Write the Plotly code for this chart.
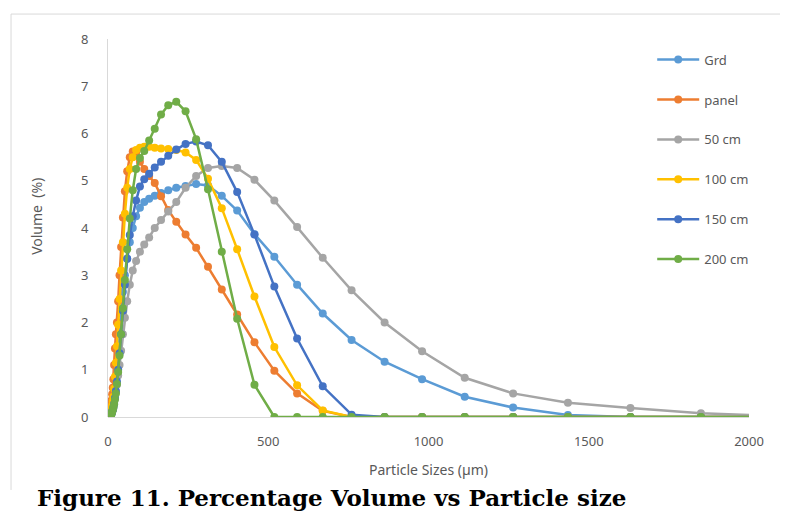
import plotly.graph_objects as go

# Particle size bins (µm)
sizes = [6.9, 7.8, 8.9, 10.1, 11.5, 13.0, 14.8, 16.8, 19.1, 21.7, 24.6, 27.9, 31.7, 36.0,
         40.9, 46.5, 52.7, 59.9, 68.0, 77.2, 87.7, 99.6, 113.1, 128.4, 145.8, 165.5, 188,
         213, 242, 275, 312, 355, 403, 457, 519, 590, 670, 760, 863, 980, 1113, 1264,
         1435, 1630, 1850, 2101]

grd = [0.0, 0.02, 0.05, 0.08, 0.12, 0.16, 0.22, 0.3, 0.4, 0.55, 0.75, 1.0, 1.35, 1.75,
       2.2, 2.65, 3.0, 3.35, 3.7, 4.0, 4.25, 4.43, 4.55, 4.62, 4.68, 4.74, 4.8,
       4.85, 4.89, 4.93, 4.9, 4.68, 4.37, 3.87, 3.39, 2.8, 2.19, 1.63, 1.17, 0.8, 0.43, 0.2,
       0.04, 0.0, 0.0, 0.0]

panel = [0.05, 0.1, 0.18, 0.27, 0.36, 0.48, 0.62, 0.8, 1.1, 1.45, 1.75, 2.0, 2.45, 3.0,
         3.6, 4.22, 4.78, 5.2, 5.5, 5.62, 5.6, 5.4, 5.25, 5.1, 4.95, 4.67, 4.38,
         4.13, 3.86, 3.58, 3.18, 2.7, 2.17, 1.58, 0.98, 0.5, 0.13, 0.0, 0.0, 0.0, 0.0, 0.0,
         0.0, 0.0, 0.0, 0.0]

cm50 = [0.0, 0.02, 0.04, 0.06, 0.09, 0.12, 0.16, 0.22, 0.3, 0.4, 0.52, 0.68, 0.88, 1.1,
        1.4, 1.75, 2.1, 2.45, 2.8, 3.1, 3.3, 3.5, 3.65, 3.8, 4.0, 4.17, 4.35,
        4.55, 4.85, 5.1, 5.27, 5.31, 5.27, 5.02, 4.58, 4.02, 3.37, 2.68, 2.0, 1.39, 0.83, 0.5,
        0.3, 0.19, 0.08, 0.02]

cm100 = [0.0, 0.03, 0.07, 0.12, 0.18, 0.25, 0.33, 0.43, 0.6, 0.85, 1.15, 1.5, 1.95, 2.5,
         3.1, 3.7, 4.3, 4.85, 5.25, 5.5, 5.65, 5.7, 5.72, 5.72, 5.7, 5.68, 5.67,
         5.65, 5.6, 5.44, 5.04, 4.42, 3.55, 2.55, 1.48, 0.67, 0.14, 0.0, 0.0, 0.0, 0.0, 0.0,
         0.0, 0.0, 0.0, 0.0]

cm150 = [0.0, 0.01, 0.03, 0.05, 0.08, 0.11, 0.15, 0.2, 0.28, 0.4, 0.55, 0.75, 1.0, 1.35,
         1.75, 2.25, 2.8, 3.35, 3.85, 4.25, 4.58, 4.88, 5.03, 5.15, 5.28, 5.4, 5.53,
         5.66, 5.78, 5.83, 5.75, 5.4, 4.76, 3.86, 2.76, 1.66, 0.65, 0.05, 0.0, 0.0, 0.0, 0.0,
         0.0, 0.0, 0.0, 0.0]

cm200 = [0.0, 0.01, 0.03, 0.05, 0.08, 0.11, 0.15, 0.2, 0.27, 0.37, 0.5, 0.7, 0.95, 1.3,
         1.75, 2.3, 2.9, 3.55, 4.2, 4.8, 5.25, 5.48, 5.63, 5.85, 6.1, 6.4, 6.6,
         6.67, 6.47, 5.88, 4.82, 3.5, 2.08, 0.68, 0.0, 0.0, 0.0, 0.0, 0.0, 0.0, 0.0, 0.0,
         0.0, 0.0, 0.0, 0.0]

series_names = ["Grd", "panel", "50 cm", "100 cm", "150 cm", "200 cm"]
series_values = [grd, panel, cm50, cm100, cm150, cm200]
series_colors = ["#5B9BD5", "#ED7D31", "#A5A5A5", "#FFC000", "#4472C4", "#70AD47"]

x_ticks = [0, 500, 1000, 1500, 2000]
y_ticks = [0, 1, 2, 3, 4, 5, 6, 7, 8]

fig = go.Figure()
for i, (name, vals, col) in enumerate(zip(series_names, series_values, series_colors)):
    fig.add_trace(go.Scatter(
        x=sizes, y=vals, name=name, mode="lines+markers",
        line=dict(color=col, width=2.5),
        marker=dict(color=col, size=8, symbol="circle"),
        legendgroup=f"g{i}", cliponaxis=True,
    ))

font_family = "Noto Sans, Liberation Sans, sans-serif"
tick_color = "#595959"

fig.update_layout(
    width=788, height=514,
    margin=dict(l=100, r=47, t=31, b=105),
    paper_bgcolor="white", plot_bgcolor="white",
    font=dict(family=font_family, size=13, color=tick_color),
    showlegend=True,
    legend=dict(
        x=0.849, y=0.985, xanchor="left", yanchor="top",
        font=dict(family=font_family, size=13, color=tick_color),
        traceorder="grouped", tracegroupgap=20,
        bgcolor="rgba(0,0,0,0)", itemwidth=42,
    ),
    xaxis=dict(
        range=[0, 2000], tickvals=x_ticks, ticktext=[str(v) for v in x_ticks],
        showgrid=False, zeroline=False, showline=False,
        ticks="", ticklabelstandoff=15,
        tickfont=dict(family=font_family, size=13, color=tick_color),
    ),
    yaxis=dict(
        range=[0, 8], tickvals=y_ticks, ticktext=[str(v) for v in y_ticks],
        showgrid=False, zeroline=True, zerolinecolor="#D9D9D9", zerolinewidth=1,
        showline=True, linecolor="#D9D9D9", linewidth=1,
        ticks="", ticklabelstandoff=16,
        tickfont=dict(family=font_family, size=13, color=tick_color),
    ),
    annotations=[
        dict(text="Particle Sizes (µm)", xref="paper", yref="paper",
             x=0.5, y=-0.14, xanchor="center", yanchor="middle", showarrow=False,
             font=dict(family=font_family, size=14, color=tick_color)),
        dict(text="Volume  (%)", xref="paper", yref="paper",
             x=-0.112, y=0.53, xanchor="center", yanchor="middle", showarrow=False,
             textangle=-90,
             font=dict(family=font_family, size=14, color=tick_color)),
        dict(text="<b>Figure 11. Percentage Volume vs Particle size</b>",
             xref="paper", yref="paper", x=-0.114, y=-0.254,
             xanchor="left", yanchor="bottom", showarrow=False,
             font=dict(family="DejaVu Serif, serif", size=23, color="#000000")),
    ],
    shapes=[
        dict(type="line", xref="paper", yref="paper", x0=-0.1513, x1=-0.1513,
             y0=1.066, y1=-0.193, line=dict(color="#D9D9D9", width=1), layer="below"),
        dict(type="line", xref="paper", yref="paper", x0=-0.1513, x1=1.07,
             y0=1.066, y1=1.066, line=dict(color="#D9D9D9", width=1), layer="below"),
    ],
)

fig.write_html("out.html")
